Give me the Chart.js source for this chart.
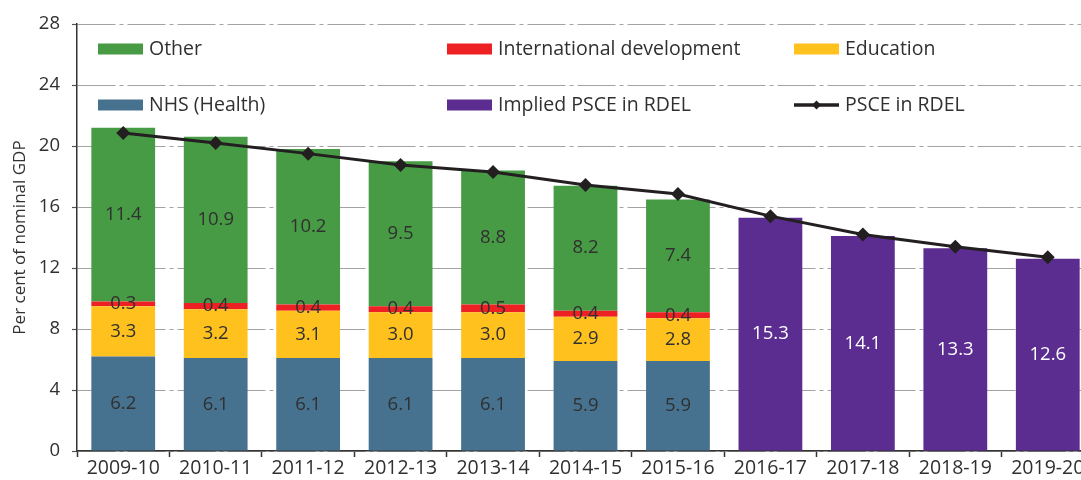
<!DOCTYPE html>
<html><head><meta charset="utf-8">
<script src="https://cdn.jsdelivr.net/npm/chart.js@4/dist/chart.umd.min.js"></script>
<style>
html,body{margin:0;padding:0;overflow:hidden;background:#fff;width:1081px;height:480px}
#wrap{position:relative;width:1101px;height:480px}
</style>
</head><body><div id="wrap"><canvas id="c"></canvas></div>
<script>
const categories = ['2009-10','2010-11','2011-12','2012-13','2013-14','2014-15','2015-16','2016-17','2017-18','2018-19','2019-20'];
const nhs        = [6.2, 6.1, 6.1, 6.1, 6.1, 5.9, 5.9, null, null, null, null];
const education  = [3.3, 3.2, 3.1, 3.0, 3.0, 2.9, 2.8, null, null, null, null];
const intlDev    = [0.3, 0.4, 0.4, 0.4, 0.5, 0.4, 0.4, null, null, null, null];
const other      = [11.4, 10.9, 10.2, 9.5, 8.8, 8.2, 7.4, null, null, null, null];
const impliedPsce = [null, null, null, null, null, null, null, 15.3, 14.1, 13.3, 12.6];
const psce       = [20.85, 20.2, 19.5, 18.75, 18.3, 17.45, 16.85, 15.4, 14.2, 13.4, 12.7];
const yMin = 0, yMax = 28, yStep = 4;

const FONT = '"Open Sans", Lato, sans-serif';
const TXT = '#303030';
const C = {green:'#489B45', red:'#ED2024', yellow:'#FFC11E', blue:'#46728F', purple:'#5C2D90', line:'#231F20'};

const labelPlugin = {
  id: 'barLabels',
  afterDatasetsDraw(chart) {
    const ctx = chart.ctx;
    ctx.save();
    ctx.font = '18.5px ' + FONT;
    ctx.textAlign = 'center';
    ctx.textBaseline = 'middle';
    chart.data.datasets.forEach((ds, i) => {
      if (ds.type === 'line') return;
      const meta = chart.getDatasetMeta(i);
      meta.data.forEach((el, j) => {
        const v = ds.data[j];
        if (v == null) return;
        const p = el.getProps(['x','y','base'], true);
        ctx.fillStyle = ds.labelColor;
        ctx.fillText(v.toFixed(1), p.x, (p.y + p.base) / 2);
      });
    });
    ctx.restore();
  }
};

const legendPlugin = {
  id: 'innerLegend',
  afterDraw(chart) {
    const ctx = chart.ctx;
    const a = chart.chartArea;
    const ds = chart.data.datasets;
    const byLabel = l => ds.find(d => d.label === l);
    const layout = [
      ['Other', 0, 0], ['International development', 1, 0], ['Education', 2, 0],
      ['NHS (Health)', 0, 1], ['Implied PSCE in RDEL', 1, 1], ['PSCE in RDEL', 2, 1]
    ];
    const colX = [a.left + 21, a.left + 370, a.left + 717];
    const rowY = [a.top + 25, a.top + 81];
    ctx.save();
    ctx.font = '19.5px ' + FONT;
    ctx.textBaseline = 'middle';
    ctx.textAlign = 'left';
    layout.forEach(([lab, c, r]) => {
      const d = byLabel(lab);
      const x = colX[c], y = rowY[r];
      if (d.type === 'line') {
        ctx.strokeStyle = d.borderColor;
        ctx.lineWidth = 3.5;
        ctx.beginPath(); ctx.moveTo(x, y); ctx.lineTo(x + 45, y); ctx.stroke();
        ctx.fillStyle = d.borderColor;
        ctx.beginPath();
        ctx.moveTo(x + 22.5, y - 4.5); ctx.lineTo(x + 27, y); ctx.lineTo(x + 22.5, y + 4.5); ctx.lineTo(x + 18, y);
        ctx.closePath(); ctx.fill();
      } else {
        ctx.fillStyle = d.backgroundColor;
        ctx.fillRect(x, y - 5.5, 45, 11);
      }
      ctx.fillStyle = TXT;
      ctx.fillText(lab, x + 51, y);
    });
    ctx.restore();
  }
};

const barDs = (label, data, color, labelColor) => ({
  type: 'bar', label, data, backgroundColor: color, labelColor,
  stack: 'bars', order: 1, categoryPercentage: 1, barPercentage: 0.69
});

new Chart(document.getElementById('c'), {
  data: {
    labels: categories,
    datasets: [
      {type: 'line', label: 'PSCE in RDEL', data: psce, borderColor: C.line, backgroundColor: C.line,
       borderWidth: 3, pointStyle: 'rectRot', pointRadius: 7, pointBackgroundColor: C.line,
       pointBorderWidth: 0, tension: 0, stack: 'line', order: 0},
      barDs('NHS (Health)', nhs, C.blue, TXT),
      barDs('Education', education, C.yellow, TXT),
      barDs('International development', intlDev, C.red, TXT),
      barDs('Other', other, C.green, TXT),
      barDs('Implied PSCE in RDEL', impliedPsce, C.purple, '#ffffff')
    ]
  },
  options: {
    responsive: true, maintainAspectRatio: false, animation: false,
    layout: {padding: {top: 24, left: 0, right: 1, bottom: 0}},
    plugins: {legend: {display: false}, tooltip: {enabled: false}},
    scales: {
      x: {
        stacked: true, offset: true,
        grid: {offset: true, drawOnChartArea: false, drawTicks: true, tickLength: 6, tickColor: '#333', tickWidth: 1.5},
        border: {color: '#333', width: 1.5},
        ticks: {color: TXT, font: {family: FONT, size: 19.5}, padding: 0, maxRotation: 0, autoSkip: false},
        afterFit(s) { s.height = 29; }
      },
      y: {
        stacked: true, min: yMin, max: yMax,
        ticks: {stepSize: yStep, color: TXT, font: {family: FONT, size: 18.5}, padding: 12},
        grid: {color: '#a3a3a3', lineWidth: 1, tickLength: 5, tickColor: '#555', tickWidth: 1.2},
        border: {color: '#333', width: 1.5, dash: [38, 4, 4, 4]},
        title: {display: true, text: 'Per cent of nominal GDP', color: TXT, font: {family: FONT, size: 17}, padding: {top: 10, bottom: 0}},
        afterFit(s) { s.width = 77; }
      }
    }
  },
  plugins: [labelPlugin, legendPlugin]
});
</script>
</body></html>
